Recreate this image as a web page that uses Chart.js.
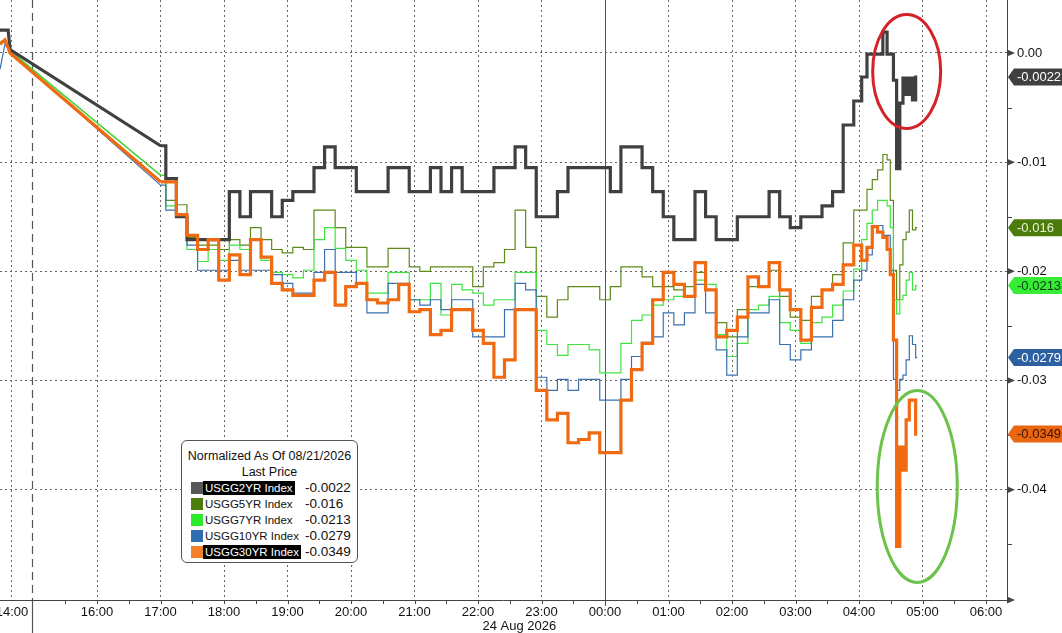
<!DOCTYPE html>
<html>
<head>
<meta charset="utf-8">
<title>USGG normalized</title>
<script src="https://cdn.jsdelivr.net/npm/chart.js@4.4.1/dist/chart.umd.min.js"></script>
<style>
  html, body { margin: 0; padding: 0; background: #fff; }
  #wrap { position: relative; width: 1062px; height: 633px; overflow: hidden; }
  #yield-chart { position: absolute; left: 0; top: 0; }
  #legend {
    position: absolute; left: 181px; top: 440px; width: 177px; height: 123px;
    box-sizing: border-box; border: 1px solid #555; border-radius: 6px; background: #fff;
    font: 12.5px "Liberation Sans", Arial, sans-serif; color: #111; padding-top: 7px;
  }
  #legend .lg-head { text-align: center; line-height: 16px; white-space: nowrap; }
  #legend .row { position: relative; height: 16px; line-height: 16px; white-space: nowrap; }
  #legend .sw { position: absolute; left: 9px; top: 2px; width: 12px; height: 12px; }
  #legend .nm { position: absolute; left: 21px; top: 1px; line-height: 14px; padding: 0 2px; font-size: 11.5px; }
  #legend .nm.hi { background: #000; color: #fff; }
  #legend .val { position: absolute; left: 123px; top: 0; font-size: 13.5px; }
</style>
</head>
<body>
<div id="wrap">
  <canvas id="yield-chart" width="1062" height="633"></canvas>
  <div id="legend">
    <div class="lg-head">Normalized As Of 08/21/2026</div>
    <div class="lg-head">Last Price</div>
    <div id="legend-rows"></div>
  </div>
</div>
<script>
// --- data -----------------------------------------------------------------
// Friday's last prints, placed on the compressed axis just left of the weekend break
const fridayPos = [14.472, 14.55, 14.6, 14.63];
// Sunday evening / Monday morning prints (10 min, tighter around the 04:30 selloff)
const sessionTimes = [
  "17:00","17:10","17:20","17:30","17:40","17:50",
  "18:00","18:10","18:20","18:30","18:40","18:50",
  "19:00","19:10","19:20","19:30","19:40","19:50",
  "20:00","20:10","20:20","20:30","20:40","20:50",
  "21:00","21:10","21:20","21:30","21:40","21:50",
  "22:00","22:10","22:20","22:30","22:40","22:50",
  "23:00","23:10","23:20","23:30","23:40","23:50",
  "00:00","00:10","00:20","00:30","00:40","00:50",
  "01:00","01:10","01:20","01:30","01:40","01:50",
  "02:00","02:10","02:20","02:30","02:40","02:50",
  "03:00","03:10","03:20","03:30","03:40","03:50",
  "04:00","04:05","04:10","04:15","04:20","04:25","04:28","04:31",
  "04:34","04:37","04:40","04:43","04:46","04:49","04:52","04:55"
];

const tickLabels = ["14:00","16:00","17:00","18:00","19:00","20:00","21:00","22:00",
  "23:00","00:00","01:00","02:00","03:00","04:00","05:00","06:00"];
const fridayTickPos = 14.66;   // where Friday's 14:00 lands on the compressed axis
const sessionBreakPos = 14.98; // weekend gap marker
const dateLabel = "24 Aug 2026";

const names = ["USGG2YR Index", "USGG5YR Index", "USGG7YR Index", "USGG10YR Index", "USGG30YR Index"];

// first 4 values = Friday, then one per sessionTimes entry
const usgg2 = [
  0.0021, 0.0021, 0.0021, 0.0003,
  -0.0085, -0.0115, -0.0150, -0.0171, -0.0171, -0.0171,
  -0.0171, -0.0127, -0.0150, -0.0127, -0.0127, -0.0150,
  -0.0135, -0.0127, -0.0127, -0.0105, -0.0086, -0.0105,
  -0.0105, -0.0127, -0.0127, -0.0127, -0.0105, -0.0105,
  -0.0127, -0.0127, -0.0105, -0.0127, -0.0105, -0.0127,
  -0.0127, -0.0127, -0.0105, -0.0105, -0.0086, -0.0105,
  -0.0150, -0.0150, -0.0127, -0.0105, -0.0105, -0.0105,
  -0.0105, -0.0127, -0.0086, -0.0086, -0.0105, -0.0127,
  -0.0150, -0.0171, -0.0171, -0.0127, -0.0150, -0.0171,
  -0.0171, -0.0150, -0.0150, -0.0150, -0.0127, -0.0150,
  -0.0160, -0.0150, -0.0150, -0.0140, -0.0127, -0.0066,
  -0.0044, -0.0022, -0.0001, -0.0001, -0.0001, 0.0019, -0.0001, -0.0001,
  -0.0025, -0.0106, -0.0046, -0.0023, -0.0038, -0.0023, -0.0043, -0.0022
];
const usgg5 = [
  0.0010, 0.0012, 0.0006, 0.0002,
  -0.0112, -0.0135, -0.0139, -0.0169, -0.0176, -0.0176,
  -0.0180, -0.0171, -0.0176, -0.0160, -0.0171, -0.0180,
  -0.0183, -0.0178, -0.0180, -0.0144, -0.0144, -0.0160,
  -0.0178, -0.0178, -0.0196, -0.0196, -0.0179, -0.0179,
  -0.0196, -0.0200, -0.0196, -0.0196, -0.0196, -0.0196,
  -0.0214, -0.0196, -0.0192, -0.0180, -0.0144, -0.0178,
  -0.0223, -0.0242, -0.0226, -0.0214, -0.0214, -0.0214,
  -0.0226, -0.0214, -0.0196, -0.0196, -0.0205, -0.0214,
  -0.0214, -0.0217, -0.0214, -0.0201, -0.0217, -0.0247,
  -0.0260, -0.0235, -0.0214, -0.0214, -0.0199, -0.0223,
  -0.0242, -0.0245, -0.0223, -0.0217, -0.0203, -0.0174,
  -0.0144, -0.0144, -0.0125, -0.0116, -0.0107, -0.0093, -0.0098, -0.0135,
  -0.0199, -0.0226, -0.0194, -0.0171, -0.0164, -0.0144, -0.0162, -0.0160
];
const usgg7 = [
  0.0010, 0.0012, 0.0006, 0.0002,
  -0.0112, -0.0140, -0.0148, -0.0180, -0.0191, -0.0180,
  -0.0190, -0.0176, -0.0180, -0.0171, -0.0190, -0.0201,
  -0.0203, -0.0206, -0.0199, -0.0171, -0.0160, -0.0179,
  -0.0190, -0.0199, -0.0220, -0.0220, -0.0201, -0.0201,
  -0.0226, -0.0226, -0.0211, -0.0240, -0.0212, -0.0217,
  -0.0220, -0.0231, -0.0226, -0.0226, -0.0201, -0.0201,
  -0.0254, -0.0267, -0.0277, -0.0267, -0.0267, -0.0272,
  -0.0293, -0.0293, -0.0266, -0.0245, -0.0240, -0.0231,
  -0.0226, -0.0223, -0.0223, -0.0208, -0.0212, -0.0258,
  -0.0278, -0.0266, -0.0235, -0.0231, -0.0223, -0.0247,
  -0.0254, -0.0266, -0.0247, -0.0242, -0.0231, -0.0218,
  -0.0198, -0.0171, -0.0156, -0.0144, -0.0135, -0.0135, -0.0140, -0.0160,
  -0.0226, -0.0239, -0.0226, -0.0222, -0.0208, -0.0201, -0.0217, -0.0213
];
const usgg10 = [
  -0.0015, 0.0008, 0.0004, 0.0001,
  -0.0121, -0.0144, -0.0148, -0.0176, -0.0199, -0.0199,
  -0.0199, -0.0190, -0.0199, -0.0199, -0.0199, -0.0203,
  -0.0211, -0.0220, -0.0220, -0.0201, -0.0180, -0.0201,
  -0.0201, -0.0211, -0.0238, -0.0238, -0.0211, -0.0211,
  -0.0226, -0.0231, -0.0226, -0.0235, -0.0226, -0.0226,
  -0.0260, -0.0260, -0.0260, -0.0235, -0.0211, -0.0217,
  -0.0297, -0.0309, -0.0299, -0.0309, -0.0299, -0.0299,
  -0.0318, -0.0318, -0.0299, -0.0278, -0.0265, -0.0260,
  -0.0238, -0.0249, -0.0238, -0.0212, -0.0238, -0.0272,
  -0.0295, -0.0260, -0.0238, -0.0238, -0.0226, -0.0267,
  -0.0281, -0.0272, -0.0260, -0.0260, -0.0245, -0.0226,
  -0.0208, -0.0199, -0.0185, -0.0158, -0.0158, -0.0167, -0.0167, -0.0199,
  -0.0299, -0.0309, -0.0299, -0.0295, -0.0281, -0.0259, -0.0267, -0.0279
];
const usgg30 = [
  0.0008, 0.0012, 0.0005, 0.0000,
  -0.0118, -0.0118, -0.0148, -0.0167, -0.0180, -0.0171,
  -0.0208, -0.0185, -0.0203, -0.0171, -0.0187, -0.0211,
  -0.0217, -0.0222, -0.0222, -0.0208, -0.0201, -0.0231,
  -0.0214, -0.0211, -0.0226, -0.0229, -0.0226, -0.0212,
  -0.0237, -0.0235, -0.0258, -0.0254, -0.0235, -0.0235,
  -0.0254, -0.0266, -0.0297, -0.0281, -0.0235, -0.0235,
  -0.0309, -0.0336, -0.0330, -0.0357, -0.0354, -0.0348,
  -0.0366, -0.0366, -0.0318, -0.0290, -0.0266, -0.0226,
  -0.0201, -0.0212, -0.0223, -0.0192, -0.0217, -0.0260,
  -0.0254, -0.0242, -0.0205, -0.0214, -0.0192, -0.0217,
  -0.0235, -0.0263, -0.0233, -0.0217, -0.0212, -0.0194,
  -0.0176, -0.0190, -0.0178, -0.0159, -0.0164, -0.0169, -0.0180, -0.0203,
  -0.0263, -0.0452, -0.0361, -0.0382, -0.0336, -0.0318, -0.0318, -0.0349
];

// hand-drawn circles on the original (centre time/value, radius in px)
const circles = [
  { at: "04:45", value: -0.0017, rx: 34, ry: 57, color: "#d42228" },
  { at: "04:55", value: -0.0397, rx: 40, ry: 96, color: "#6cc24a" }
];

// --- helpers --------------------------------------------------------------
const FONT = '"Liberation Sans", Arial, sans-serif';

// "HH:MM" -> hours on the axis; after-midnight times go past 24
function toPos(hhmm) {
  const [h, m] = hhmm.split(":").map(Number);
  let p = h + m / 60;
  if (h < 12) p += 24;
  return p;
}

const xs = fridayPos.concat(sessionTimes.map(toPos));
const tickPos = tickLabels.map((l, i) => (i === 0 ? fridayTickPos : toPos(l)));
const nFri = fridayPos.length;

function points(values, from, to) {
  const out = [];
  for (let i = from; i < to; i++) out.push({ x: xs[i], y: values[i] });
  return out;
}

const styles = [
  { line: "#404040", width: 3.2, order: 2, swatch: "#595959", tag: "#404040", tagText: "#ffffff", hi: true },
  { line: "#5d8a18", width: 1.2, order: 5, swatch: "#4c7c0c", tag: "#4d7a0c", tagText: "#e9f7cf", hi: false },
  { line: "#3fe43f", width: 1.2, order: 4, swatch: "#2bea2b", tag: "#36ec36", tagText: "#0b3d0b", hi: false },
  { line: "#3a70b2", width: 1.2, order: 3, swatch: "#2e6db0", tag: "#2c60a0", tagText: "#ffffff", hi: false },
  { line: "#ef6a10", width: 3.2, order: 1, swatch: "#f5802a", tag: "#ea6510", tagText: "#3a1400", hi: true }
];
const seriesValues = [usgg2, usgg5, usgg7, usgg10, usgg30];

// each series: stepped line for the session, plain line for Friday + the weekend jump
function buildDatasets() {
  const sets = [];
  names.forEach((n, i) => {
    const vals = seriesValues[i];
    const st = styles[i];
    sets.push({
      label: n,
      data: points(vals, nFri, vals.length),
      stepped: "middle",
      borderColor: st.line, borderWidth: st.width, order: st.order,
      pointRadius: 0, fill: false
    });
    sets.push({
      label: n + " (gap)",
      data: points(vals, 0, nFri + 1),
      borderColor: st.line, borderWidth: st.width, order: st.order,
      pointRadius: 0, tension: 0, fill: false
    });
  });
  return sets;
}

function line(ctx, x1, y1, x2, y2) {
  ctx.beginPath();
  ctx.moveTo(x1, y1);
  ctx.lineTo(x2, y2);
  ctx.stroke();
}

function fmtAxis(v) {
  if (Math.abs(v) < 1e-9) return "0.00";
  return v.toFixed(2);
}

// --- extra drawing: breaks, axis lines, arrows, value tags, circles -------
const decor = {
  id: "decor",
  beforeDatasetsDraw(chart) {
    const { ctx, chartArea: a, scales: { x } } = chart;
    ctx.save();
    ctx.strokeStyle = "#555";
    ctx.lineWidth = 1.2;
    const xb = Math.round(x.getPixelForValue(sessionBreakPos)) + 0.5;
    ctx.setLineDash([8, 5]);
    line(ctx, xb, a.top, xb, a.bottom);
    ctx.setLineDash([]);
    line(ctx, xb, a.bottom, xb, chart.height);
    const xm = Math.round(x.getPixelForValue(24)) + 0.5;
    ctx.lineWidth = 1;
    line(ctx, xm, a.top, xm, a.bottom + 6);
    ctx.restore();
  },
  afterDatasetsDraw(chart) {
    const { ctx, chartArea: a, scales: { x, y } } = chart;
    ctx.save();

    // axis lines
    ctx.strokeStyle = "#444";
    ctx.lineWidth = 1;
    line(ctx, a.left, a.bottom + 0.5, a.right, a.bottom + 0.5);
    line(ctx, a.right + 0.5, a.top, a.right + 0.5, a.bottom);

    // x ticks every half hour
    for (let h = 15.5; h < 30.4; h += 0.5) {
      const px = Math.round(x.getPixelForValue(h)) + 0.5;
      line(ctx, px, a.bottom, px, a.bottom + 4);
    }

    // y arrows on majors, short ticks on the halves
    ctx.fillStyle = "#444";
    y.ticks.forEach(t => {
      const py = y.getPixelForValue(t.value);
      ctx.beginPath();
      ctx.moveTo(a.right, py - 3.5);
      ctx.lineTo(a.right + 8, py);
      ctx.lineTo(a.right, py + 3.5);
      ctx.closePath();
      ctx.fill();
      const ph = Math.round(y.getPixelForValue(t.value - 0.005)) + 0.5;
      if (ph < a.bottom - 2) line(ctx, a.right, ph, a.right + 5, ph);
    });
    ctx.beginPath();
    ctx.moveTo(a.right, a.bottom - 3.5);
    ctx.lineTo(a.right + 8, a.bottom);
    ctx.lineTo(a.right, a.bottom + 3.5);
    ctx.closePath();
    ctx.fill();

    // hand drawn circles
    circles.forEach(c => {
      ctx.beginPath();
      ctx.ellipse(x.getPixelForValue(toPos(c.at)), y.getPixelForValue(c.value), c.rx, c.ry, 0, 0, Math.PI * 2);
      ctx.strokeStyle = c.color;
      ctx.lineWidth = 3;
      ctx.stroke();
    });

    // last value tags
    ctx.font = "13px " + FONT;
    ctx.textBaseline = "middle";
    ctx.textAlign = "left";
    seriesValues.forEach((vals, i) => {
      const v = vals[vals.length - 1];
      const yc = y.getPixelForValue(v);
      const x0 = a.right + 1;
      ctx.beginPath();
      ctx.moveTo(x0, yc);
      ctx.lineTo(x0 + 6, yc - 8.5);
      ctx.lineTo(chart.width, yc - 8.5);
      ctx.lineTo(chart.width, yc + 8.5);
      ctx.lineTo(x0 + 6, yc + 8.5);
      ctx.closePath();
      ctx.fillStyle = styles[i].tag;
      ctx.fill();
      ctx.fillStyle = styles[i].tagText;
      ctx.fillText(String(v), x0 + 9, yc + 0.5);
    });

    // date under the axis
    ctx.fillStyle = "#111";
    ctx.textAlign = "center";
    ctx.fillText(dateLabel, x.getPixelForValue(22.65), 626);
    ctx.restore();
  }
};

// --- legend ---------------------------------------------------------------
function buildLegend() {
  const rows = document.getElementById("legend-rows");
  names.forEach((n, i) => {
    const vals = seriesValues[i];
    const r = document.createElement("div");
    r.className = "row";
    r.innerHTML =
      '<span class="sw" style="background:' + styles[i].swatch + '"></span>' +
      '<span class="nm' + (styles[i].hi ? " hi" : "") + '">' + n + "</span>" +
      '<span class="val">' + vals[vals.length - 1] + "</span>";
    rows.appendChild(r);
  });
}

// --- chart ----------------------------------------------------------------
const canvas = document.getElementById("yield-chart");
const chart = new Chart(canvas, {
  type: "line",
  data: { datasets: buildDatasets() },
  options: {
    responsive: false,
    animation: false,
    layout: { padding: 0 },
    plugins: { legend: { display: false }, tooltip: { enabled: false } },
    scales: {
      x: {
        type: "linear",
        min: 14.472,
        max: 30.33,
        afterBuildTicks: s => { s.ticks = tickPos.map(v => ({ value: v })); },
        afterFit: s => { s.height = 33; s.paddingLeft = 0; s.paddingRight = 0; },
        ticks: {
          autoSkip: false,
          maxRotation: 0,
          padding: 5,
          color: "#111",
          font: { family: FONT, size: 13 },
          callback: (v, i) => tickLabels[i]
        },
        grid: { color: "#666", lineWidth: 1, drawTicks: false },
        border: { display: false, dash: [2, 3] }
      },
      y: {
        position: "right",
        min: -0.0501,
        max: 0.00485,
        afterBuildTicks: s => { s.ticks = s.ticks.filter(t => t.value > -0.045); },
        afterFit: s => { s.width = 55; s.paddingTop = 0; s.paddingBottom = 0; },
        ticks: {
          stepSize: 0.01,
          includeBounds: false,
          padding: 10,
          color: "#111",
          font: { family: FONT, size: 13 },
          callback: v => fmtAxis(v)
        },
        grid: { color: "#666", lineWidth: 1, drawTicks: false },
        border: { display: false, dash: [2, 3] }
      }
    }
  },
  plugins: [decor]
});

buildLegend();
console.log("chart area", chart.chartArea);
</script>
</body>
</html>
